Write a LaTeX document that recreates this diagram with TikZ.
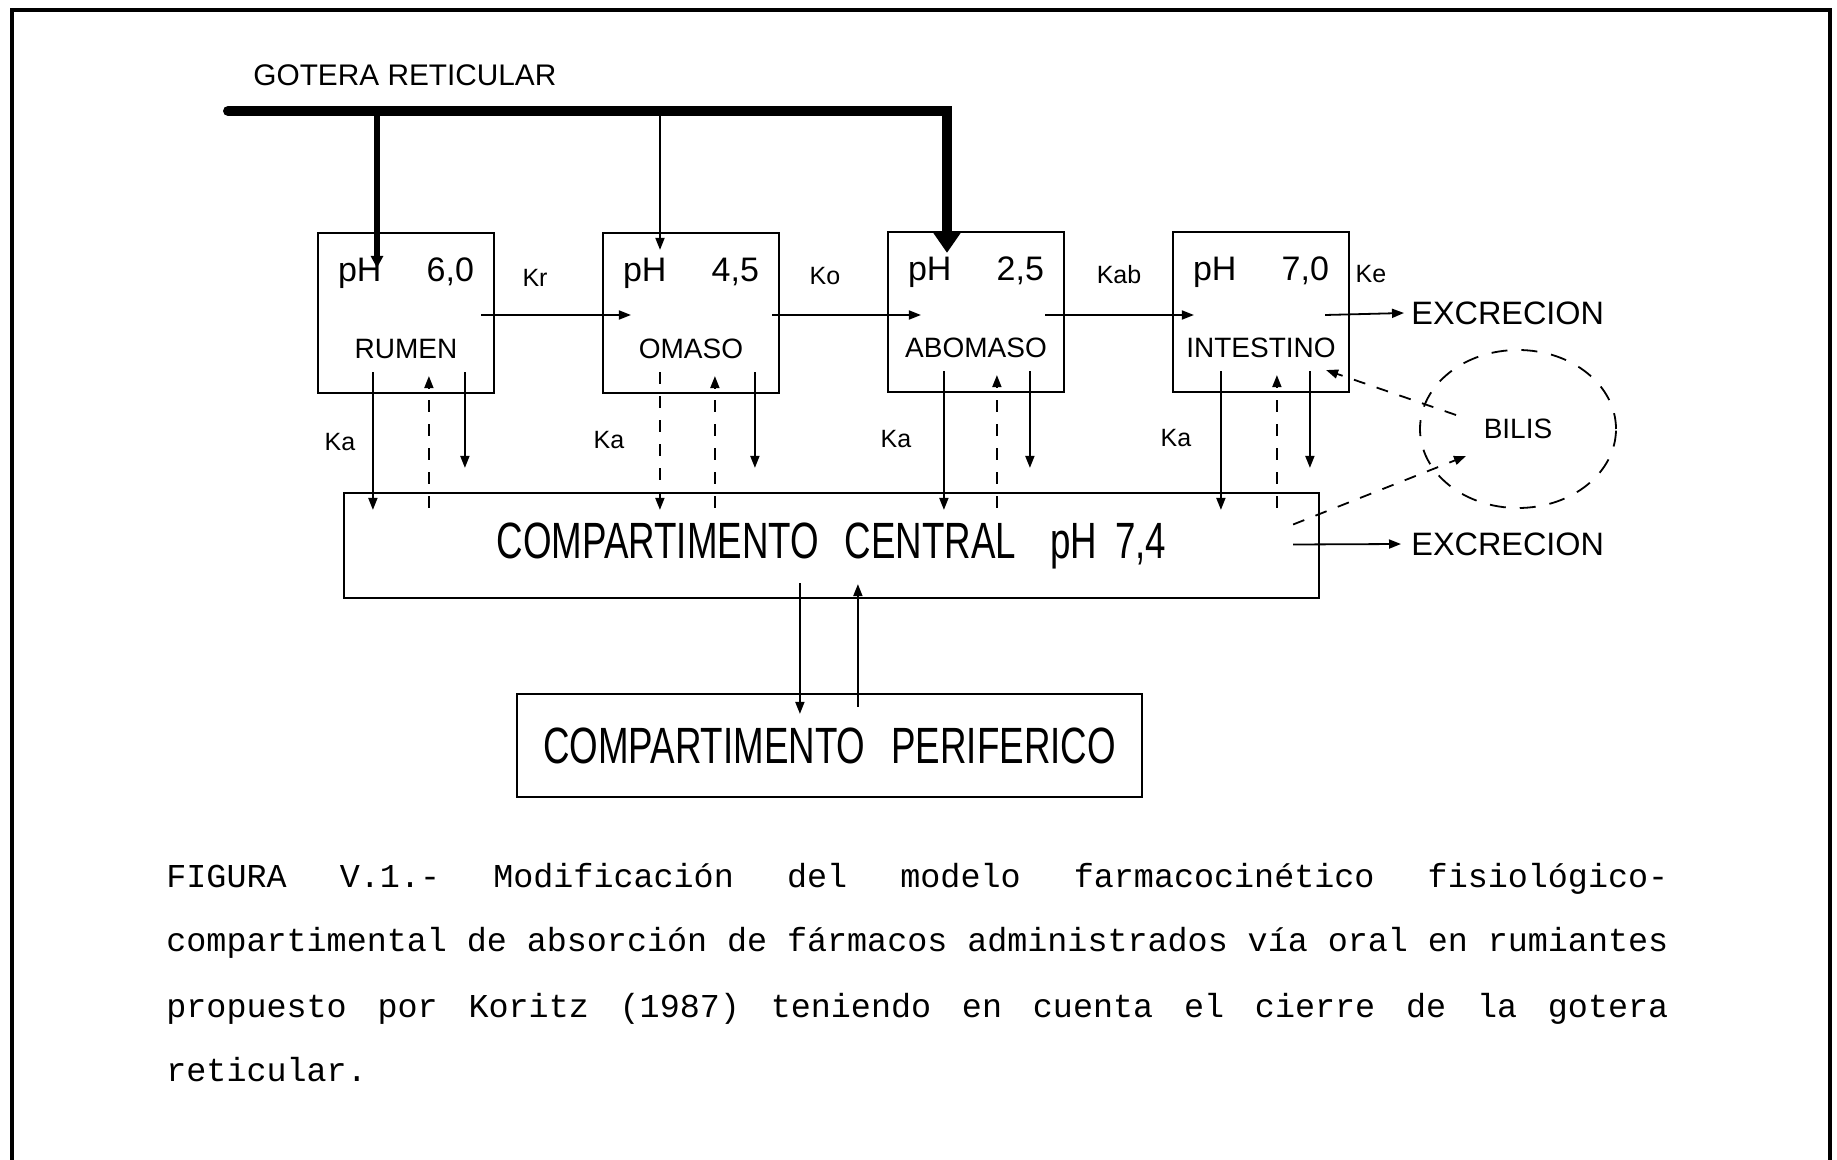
\documentclass[tikz,border=0pt]{standalone}
\usepackage{fontspec}
\setmainfont{Liberation Sans}
\newfontfamily\narrowfont[FakeStretch=0.72]{Liberation Sans}
\newfontfamily\capfont{Liberation Mono}
\usetikzlibrary{arrows.meta,calc,shapes.geometric}
\begin{document}
\begin{tikzpicture}[x=0.5pt,y=-0.5pt,
  comp/.style={draw, line width=1.1pt, minimum width=88pt, minimum height=80pt, inner sep=0pt},
  bigbox/.style={draw, line width=1.1pt, inner sep=0pt, font=\narrowfont\fontsize{25.5}{28}\selectfont},
  lbl/.style={font=\fontsize{14}{16}\selectfont, inner sep=0pt},
  exl/.style={font=\fontsize{16.2}{18}\selectfont, inner sep=0pt, anchor=west},
  phl/.style={font=\fontsize{17}{19}\selectfont, inner sep=0pt},
  kl/.style={font=\fontsize{12.5}{14}\selectfont, inner sep=0pt},
  capl/.style={font=\capfont\fontsize{16.7}{18}\selectfont, inner sep=0pt, anchor=base west},
  arr/.style={line width=0.9pt, -{Triangle[length=6pt,width=4.5pt]}},
  darr/.style={arr, dash pattern=on 6pt off 6pt},
  ]
\useasboundingbox (0,0) rectangle (1837,1160);
% frame
\draw[line width=2pt] (12,1160) -- (12,10) -- (1830,10) -- (1830,1160);

% boxes
\node[comp] (rumen) at (406,313) {};
\node[comp] (omaso) at (691,313) {};
\node[comp] (abomaso) at (976,312) {};
\node[comp] (intestino) at (1261,312) {};
\node[bigbox, minimum width=487.5pt, minimum height=52.5pt] (central) at (831.5,545.5)
  {COMPARTIMENTO\hspace{13pt}CENTRAL\hspace{17pt}pH\hspace{9pt}7,4};
\node[bigbox, minimum width=312.5pt, minimum height=51.5pt] (periferico) at (829.5,745.5)
  {COMPARTIMENTO\hspace{13pt}PERIFERICO};
\node[draw, ellipse, line width=0.9pt, dash pattern=on 8pt off 7pt, minimum width=98pt, minimum height=79pt, lbl] (bilis) at (1518,429) {BILIS};

% box labels
\node[phl] (ph1) at ($(rumen.north)+(0,41)$) {\makebox[68pt]{pH\hfill 6,0}};
\node[phl] (ph2) at ($(omaso.north)+(0,41)$) {\makebox[68pt]{pH\hfill 4,5}};
\node[phl] (ph3) at ($(abomaso.north)+(0,41)$) {\makebox[68pt]{pH\hfill 2,5}};
\node[phl] (ph4) at ($(intestino.north)+(0,41)$) {\makebox[68pt]{pH\hfill 7,0}};
\node[lbl] (n1) at ($(rumen.north)+(0,117)$) {RUMEN};
\node[lbl] (n2) at ($(omaso.north)+(0,117)$) {OMASO};
\node[lbl] (n3) at ($(abomaso.north)+(0,117)$) {ABOMASO};
\node[lbl] (n4) at ($(intestino.north)+(0,117)$) {INTESTINO};

% rate labels
\node[kl] (kr) at (535,278) {Kr};
\node[kl] (ko) at (825,276) {Ko};
\node[kl] (kab) at (1119,275) {Kab};
\node[kl] (ke) at (1371,274) {Ke};
\node[kl] (ka1) at (340,442) {Ka};
\node[kl] (ka2) at (609,440) {Ka};
\node[kl] (ka3) at (896,439) {Ka};
\node[kl] (ka4) at (1176,438) {Ka};

% excretion
\node[exl] (ex1) at (1411,313) {EXCRECION};
\node[exl] (ex2) at (1411,544) {EXCRECION};

% gotera reticular
\node[font=\fontsize{14.9}{16}\selectfont, anchor=west, inner sep=0pt] (gotera) at (253,75) {GOTERA RETICULAR};
\coordinate (g0) at (228,111);
\coordinate (g1) at (947,111);
\coordinate (gr) at (377,111);
\coordinate (go) at (660,111);
\draw[line width=5pt, line cap=round, miter limit=10, -{Triangle[length=10pt,width=13pt]}] (g0) -- (g1) -- ($(g1 |- abomaso.north)+(0,22)$);
\draw[line width=3pt, -{Triangle[length=6pt,width=6pt]}] (gr) -- ($(gr |- rumen.north)+(0,36)$);
\draw[arr] (go) -- ($(go |- omaso.north)+(0,18)$);

% horizontal transfers
\draw[arr] ($(rumen.east)+(-14,2)$) -- ($(omaso.west)+(29,2)$);
\draw[arr] ($(omaso.east)+(-8,2)$) -- ($(abomaso.west)+(34,3)$);
\draw[arr] ($(abomaso.east)+(-20,3)$) -- ($(intestino.west)+(22,3)$);
\draw[arr] ($(intestino.east)+(-25,3)$) -- ($(ex1.west)+(-7,0)$);

% vertical exchanges
\foreach \b/\da/\ua/\db/\dsh in {rumen/56/112/148/arr, omaso/58/113/153/darr, abomaso/57/110/143/arr, intestino/49/105/138/arr}{
  \draw[\dsh] ($(\b.south west)+(\da,-22)$) -- ($(\b.south west |- central.north)+(\da,18)$);
  \draw[darr] ($(\b.south west |- central.north)+(\ua,16)$) -- ($(\b.south west)+(\ua,-18)$);
  \draw[arr] ($(\b.south west)+(\db,-22)$) -- ($(\b.south west |- central.north)+(\db,-24)$);
}

% central - periferico
\draw[arr] ($(central.south west)+(457,-16)$) -- ($(central.south west |- periferico.north)+(457,21)$);
\draw[arr] ($(central.south west |- periferico.north)+(515,14)$) -- ($(central.south west)+(515,-15)$);

% central excretion
\draw[arr] ($(central.east)+(-27,-1)$) -- ($(ex2.west)+(-10,0)$);

% bilis
\draw[darr] ($(bilis.center)+(-62,-14)$) -- ($(intestino.south east)+(-24,-23)$);
\draw[darr] ($(central.east)+(-27,-21)$) -- ($(bilis.center)+(-52,27)$);

% caption
\node[capl] (c1) at (166,887) {\makebox[751pt]{FIGURA\hfill V.1.-\hfill Modificación\hfill del\hfill modelo\hfill farmacocinético\hfill fisiológico-}};
\node[capl] (c2) at (166,951) {\makebox[751pt]{compartimental\hfill de\hfill absorción\hfill de\hfill fármacos\hfill administrados\hfill vía\hfill oral\hfill en\hfill rumiantes}};
\node[capl] (c3) at (166,1017) {\makebox[751pt]{propuesto\hfill por\hfill Koritz\hfill (1987)\hfill teniendo\hfill en\hfill cuenta\hfill el\hfill cierre\hfill de\hfill la\hfill gotera}};
\node[capl] (c4) at (166,1081) {reticular.};
\end{tikzpicture}
\end{document}
